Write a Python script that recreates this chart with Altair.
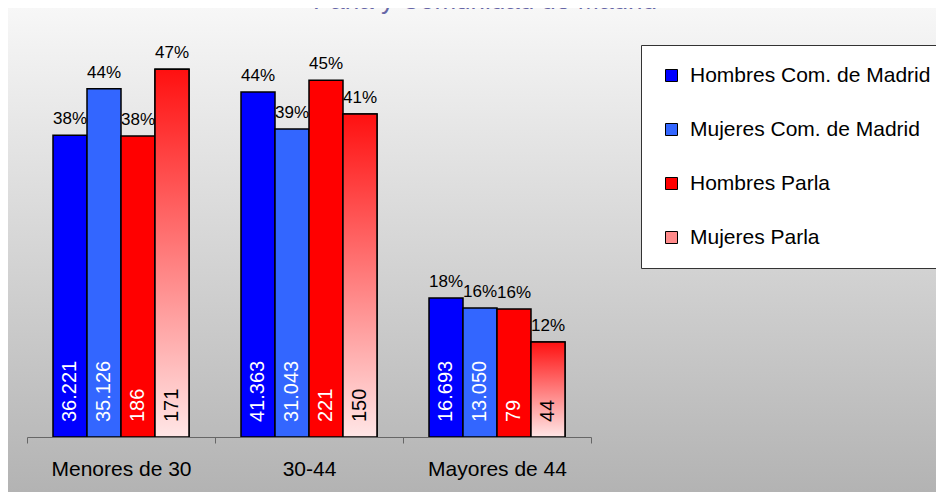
import altair as alt
import pandas as pd

categories = ["Menores de 30", "30-44", "Mayores de 44"]
series = ["Hombres Com. de Madrid", "Mujeres Com. de Madrid", "Hombres Parla", "Mujeres Parla"]

hm_counts = [36221, 41363, 16693]
mm_counts = [35126, 31043, 13050]
hp_counts = [186, 221, 79]
mp_counts = [171, 150, 44]

hm_pct = [38.4, 43.9, 17.7]
mm_pct = [44.3, 39.2, 16.4]
hp_pct = [38.3, 45.4, 16.3]
mp_pct = [46.8, 41.1, 12.1]

colors = ["#0000ff", "#3366ff", "#ff0000", "#ff8a8a"]
title_text = "Parla y Comunidad de Madrid"

rows = []
for s, cnts, pcts in zip(series, [hm_counts, mm_counts, hp_counts, mp_counts],
                         [hm_pct, mm_pct, hp_pct, mp_pct]):
    for c, n, p in zip(categories, cnts, pcts):
        rows.append({"cat": c, "series": s, "n": n, "pct": p})
df = pd.DataFrame(rows)

W, H = 564, 393
PAD = {"left": 19, "top": 36, "right": 345, "bottom": 55}
FONT = "Liberation Sans"

x_enc = alt.X("cat:N", sort=categories,
              scale=alt.Scale(paddingInner=0, paddingOuter=0),
              axis=alt.Axis(title=None, labelAngle=0, tickBand="extent",
                            domainColor="#666666", tickColor="#666666",
                            tickSize=6, labelFontSize=21, labelColor="#000000",
                            labelFont=FONT, labelPadding=15, zindex=1))
xo_enc = alt.XOffset("series:N", sort=series,
                     scale=alt.Scale(domain=series, paddingInner=0, paddingOuter=0.765))
y_enc = alt.Y("pct:Q", scale=alt.Scale(domain=[0, 50]), axis=None)

base = alt.Chart(df)

bg = alt.Chart(alt.Data(values=[{"a": 1}])).mark_rect(
    fill=alt.Gradient(gradient="linear", x1=0, y1=0, x2=0, y2=1,
                      stops=[alt.GradientStop(offset=0, color="#f7f7f7"),
                             alt.GradientStop(offset=1, color="#b3b3b3")])
).encode(x=alt.value(-PAD["left"]), x2=alt.value(W + PAD["right"]),
         y=alt.value(-PAD["top"]), y2=alt.value(H + PAD["bottom"]))

bars = base.mark_bar(stroke="#000000", strokeWidth=1.5, opacity=1).encode(
    x=x_enc, xOffset=xo_enc, y=y_enc,
    color=alt.Color("series:N", sort=series,
                    scale=alt.Scale(domain=series, range=colors),
                    legend=alt.Legend(title=None, orient="none", legendX=614, legendY=1,
                                      padding=20, fillColor="#ffffff", strokeColor="#333333",
                                      symbolType="square", symbolSize=144,
                                      symbolStrokeColor="#000000", symbolStrokeWidth=1,
                                      symbolOpacity=1, labelFontSize=21, labelFont=FONT,
                                      labelColor="#000000", labelLimit=400,
                                      labelOffset=8, rowPadding=32)))

grad_bars = base.transform_filter(alt.datum.series == "Mujeres Parla").mark_bar(
    stroke="#000000", strokeWidth=1.5,
    fill=alt.Gradient(gradient="linear", x1=0, y1=0, x2=0, y2=1,
                      stops=[alt.GradientStop(offset=0, color="#ff1010"),
                             alt.GradientStop(offset=1, color="#ffe6e6")])
).encode(x=x_enc, xOffset=xo_enc, y=y_enc)

pct_labels = base.transform_calculate(
    lab="format(datum.pct, '.0f') + '%'"
).mark_text(baseline="alphabetic", dy=-11, fontSize=17, font=FONT, color="#000000").encode(
    x=x_enc, xOffset=xo_enc, y=y_enc, text="lab:N")

cnt_labels = base.transform_calculate(
    lab="replace(format(datum.n, ','), ',', '.')"
).mark_text(angle=270, align="left", baseline="middle", dx=15, fontSize=20, font=FONT).encode(
    x=x_enc, xOffset=xo_enc, y=alt.datum(0), text="lab:N",
    color=alt.condition(alt.datum.series == "Mujeres Parla",
                        alt.value("#000000"), alt.value("#ffffff")))

title = alt.Chart(alt.Data(values=[{"t": title_text}])).mark_text(
    align="center", baseline="alphabetic", fontSize=26, font=FONT, color="#6666a6"
).encode(x=alt.value(458), y=alt.value(-35), text="t:N")

chart = alt.layer(bg, bars, grad_bars, pct_labels, cnt_labels, title).properties(
    width=W, height=H,
    autosize=alt.AutoSizeParams(type="none"),
    padding=PAD,
).configure_view(stroke=None)

chart.save("out.html", embed_options={"renderer": "svg", "actions": False})
